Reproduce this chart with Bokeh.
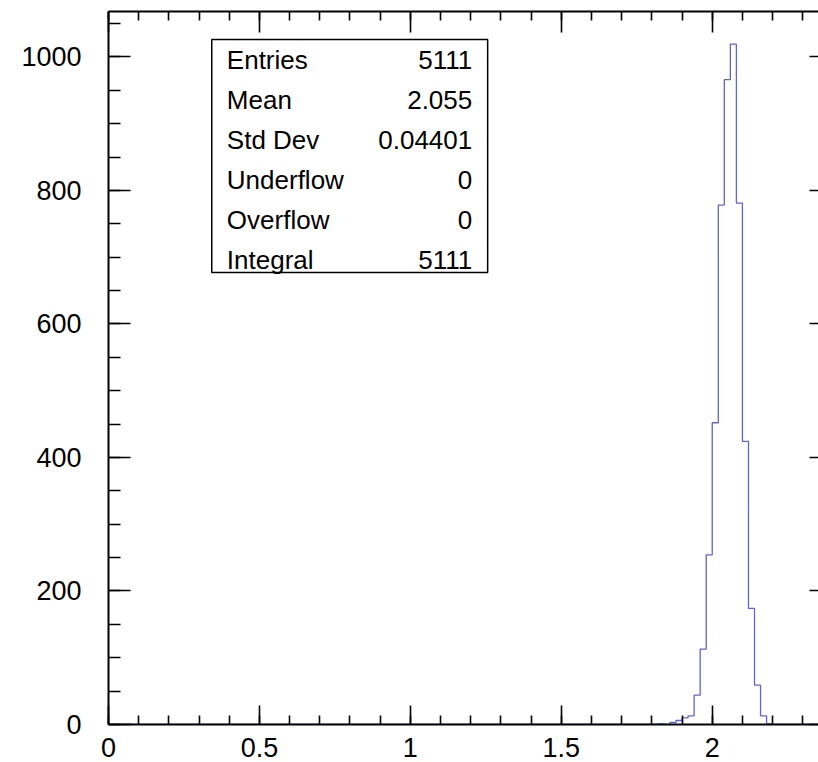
import numpy as np
from bokeh.plotting import figure
from bokeh.models import (Range1d, LinearAxis, SingleIntervalTicker, NumeralTickFormatter,
                          BoxAnnotation, Label, CustomLabelingPolicy)
from bokeh.embed import file_html
from bokeh.resources import INLINE

# ---- histogram definition (ROOT-like TH1) ----
hist_x_min = 0.0
hist_x_max = 2.4
bin_width = 0.02
first_filled_bin_low = 1.82
counts_filled = [1, 0, 3, 6, 10, 13, 44, 113, 254, 452, 778, 966, 1019, 781,
                 424, 174, 59, 13, 1]

# ---- stats box ----
stat_names = ["Entries", "Mean", "Std Dev", "Underflow", "Overflow", "Integral"]
stat_values = ["5111", "2.055", "0.04401", "0", "0", "5111"]

# ---- build full histogram arrays ----
n_bins = int(round((hist_x_max - hist_x_min) / bin_width))
edges = hist_x_min + bin_width * np.arange(n_bins + 1)
counts = np.zeros(n_bins)
start = int(round((first_filled_bin_low - hist_x_min) / bin_width))
counts[start:start + len(counts_filled)] = counts_filled
step_y = np.append(counts, counts[-1])

FONT = "Liberation Sans"

p = figure(width=818, height=762,
           x_range=Range1d(0, 2.352), y_range=Range1d(0, 1068),
           output_backend="svg", toolbar_location=None,
           x_axis_location=None, y_axis_location=None,
           min_border_left=108, min_border_right=0,
           min_border_top=11, min_border_bottom=38)
p.outline_line_color = None
p.xgrid.visible = False
p.ygrid.visible = False
p.background_fill_color = "white"
p.border_fill_color = "white"

no_labels = CustomLabelingPolicy(code="return new indices.constructor(indices.size, 0)")


def style_axis(ax, major_in, minor_in, show_labels, line=True):
    ax.major_tick_in = major_in
    ax.major_tick_out = 0
    ax.minor_tick_in = minor_in
    ax.minor_tick_out = 0
    ax.major_tick_line_width = 1.6
    ax.minor_tick_line_width = 1.6
    ax.major_tick_line_color = "black"
    ax.minor_tick_line_color = "black" if minor_in > 0 else None
    ax.axis_line_width = 2
    ax.axis_line_color = "black" if line else None
    if show_labels:
        ax.major_label_text_font = FONT
        ax.major_label_text_font_size = "27px"
        ax.major_label_text_color = "black"
    else:
        ax.major_label_text_font_size = "0px"
        ax.major_label_standoff = 0
        ax.major_label_policy = no_labels


xb = LinearAxis(ticker=SingleIntervalTicker(interval=0.5, num_minor_ticks=5),
                formatter=NumeralTickFormatter(format="0.[0]"))
style_axis(xb, 19, 9, True)
xb.major_label_standoff = 13
p.add_layout(xb, "below")

xt = LinearAxis(ticker=SingleIntervalTicker(interval=0.5, num_minor_ticks=5))
style_axis(xt, 21, 9, False)
p.add_layout(xt, "above")

yl = LinearAxis(ticker=SingleIntervalTicker(interval=200, num_minor_ticks=4))
style_axis(yl, 22, 12, True)
yl.major_label_standoff = 27
p.add_layout(yl, "left")

yr = LinearAxis(ticker=SingleIntervalTicker(interval=200, num_minor_ticks=4))
style_axis(yr, 9, 0, False, line=False)
p.add_layout(yr, "right")

# histogram outline
p.step(x=edges, y=step_y, mode="after", line_color="#6464c4", line_width=1.3)

# stats box
box = BoxAnnotation(left=0.342, right=1.256, bottom=677, top=1026,
                    fill_color="white", fill_alpha=1.0,
                    line_color="black", line_width=1.5, line_alpha=1.0)
p.add_layout(box)

row_y_top = 996
row_step = 60.0
for i, (nm, vl) in enumerate(zip(stat_names, stat_values)):
    yy = row_y_top - i * row_step
    p.add_layout(Label(x=0.392, y=yy, text=nm, text_font=FONT,
                       text_font_size="26px", text_baseline="middle",
                       text_align="left", text_color="black"))
    p.add_layout(Label(x=1.205, y=yy, text=vl, text_font=FONT,
                       text_font_size="26px", text_baseline="middle",
                       text_align="right", text_color="black"))

open("out.html", "w").write(file_html(p, INLINE))
